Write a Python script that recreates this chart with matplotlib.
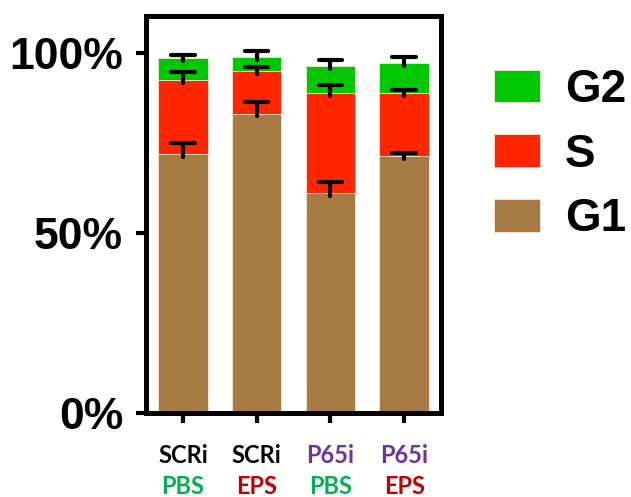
import matplotlib
matplotlib.use("Agg")
import matplotlib.pyplot as plt
import numpy as np
from matplotlib.patches import Patch
from matplotlib.transforms import blended_transform_factory

# ---- data ----
groups_top = ["SCRi", "SCRi", "P65i", "P65i"]
groups_bot = ["PBS", "EPS", "PBS", "EPS"]
top_colors = ["#000000", "#000000", "#7030A0", "#7030A0"]
bot_colors = ["#00B050", "#C00000", "#00B050", "#C00000"]

g1 = [72.0, 83.2, 61.2, 71.4]
s = [20.6, 11.7, 27.6, 17.6]
g2 = [5.9, 4.0, 7.7, 8.2]
g1_err = [2.9, 3.3, 3.0, 0.8]
s_err = [2.2, 1.1, 2.2, 0.7]
g2_err = [0.9, 1.7, 1.7, 1.8]

phases = ["G2", "S", "G1"]
phase_colors = {"G1": "#A87A44", "S": "#FF2600", "G2": "#00C800"}
yticks = [0, 50, 100]
ytick_labels = ["0%", "50%", "100%"]

# ---- figure ----
fig = plt.figure(figsize=(6.31, 4.97), dpi=100)
ax = fig.add_axes([146 / 631, 84 / 497, 295 / 631, 397 / 497])

x = np.arange(len(g1))
w = 0.67
g1 = np.array(g1); s = np.array(s); g2 = np.array(g2)
edge = dict(edgecolor="#f3e6d2", linewidth=0.6)
ax.bar(x, g1, w, color=phase_colors["G1"], **edge, zorder=2)
ax.bar(x, s, w, bottom=g1, color=phase_colors["S"], **edge, zorder=2)
ax.bar(x, g2, w, bottom=g1 + s, color=phase_colors["G2"], **edge, zorder=2)

tops = [g1, g1 + s, g1 + s + g2]
errs = [np.array(g1_err), np.array(s_err), np.array(g2_err)]
half_cap = 0.16
for t, e in zip(tops, errs):
    ax.vlines(x, t - 0.8, t + e, color="black", linewidth=3, capstyle="round", zorder=4)
    ax.hlines(t + e, x - half_cap, x + half_cap, color="black", linewidth=3,
              capstyle="round", zorder=4)

ax.set_xlim(-0.5, 3.5)
ax.set_ylim(0, 110.3)
ax.set_yticks(yticks)
ax.set_yticklabels(ytick_labels, fontsize=32, fontweight="bold",
                   family="Liberation Sans")
ax.set_xticks(x)
ax.set_xticklabels([""] * len(x))
ax.tick_params(axis="both", width=3, length=7.5, direction="out", pad=9)
for sp in ax.spines.values():
    sp.set_linewidth(3.6)

tr = blended_transform_factory(ax.transData, ax.transAxes)
for i in range(len(x)):
    ax.text(x[i], -0.106, groups_top[i], transform=tr, ha="center", va="center",
            fontsize=17, fontweight="bold", family="Lato", color=top_colors[i])
    ax.text(x[i], -0.186, groups_bot[i], transform=tr, ha="center", va="center",
            fontsize=17, fontweight="bold", family="Lato", color=bot_colors[i])

handles = [Patch(facecolor=phase_colors[p], edgecolor="#f3e6d2", linewidth=0.6) for p in phases]
leg = fig.legend(handles, phases, loc="upper left", bbox_to_anchor=(494 / 631, 1 - 68 / 497),
                 frameon=False, prop={"family": "Liberation Sans", "weight": "bold", "size": 33},
                 handlelength=1.0, handleheight=0.72, handletextpad=0.55, labelspacing=0.45,
                 borderaxespad=0, borderpad=0)

fig.savefig("out.png", dpi=100)
